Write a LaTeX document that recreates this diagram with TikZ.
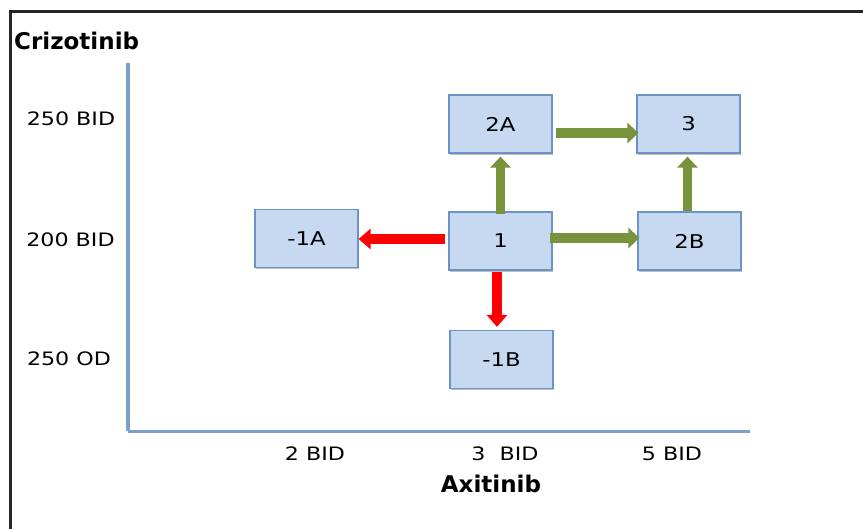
\documentclass[tikz,border=0pt]{standalone}
\usepackage{fontspec}
\setmainfont{DejaVu Sans}[FakeStretch=1.2]
\newfontfamily\drugfont{DejaVu Sans}
\usetikzlibrary{arrows.meta,shadows}

\definecolor{boxfill}{HTML}{C6D9F1}
\definecolor{boxline}{HTML}{6A93C6}
\definecolor{axisblue}{HTML}{7BA0CD}
\definecolor{upgreen}{HTML}{77933C}
\definecolor{downred}{HTML}{FF0000}

\tikzstyle{level} = [draw=boxline, fill=boxfill, line width=1.2pt, minimum width=103pt, minimum height=58pt, inner sep=0pt, font=\fontsize{19}{19}\selectfont, drop shadow={opacity=0.5, shadow xshift=0.8pt, shadow yshift=-1.8pt}]
\tikzstyle{dose} = [inner sep=0pt, font=\fontsize{18.5}{18.5}\selectfont]
\tikzstyle{drug} = [inner sep=0pt, font=\drugfont\bfseries\fontsize{23}{23}\selectfont]
\tikzstyle{up} = [draw=upgreen, line width=9.5pt, -{Triangle[width=20pt,length=11pt]}]
\tikzstyle{down} = [draw=downred, line width=10pt, -{Triangle[width=20pt,length=12pt]}]

\begin{document}
\begin{tikzpicture}[x=1pt, y=-1pt]

\useasboundingbox (0,0) rectangle (863,529);

% frame
\draw[line width=3pt, black!85] (10.5,529) -- (10.5,11.5) -- (863,11.5);

% axes
\coordinate (origin) at (128,431.5);
\coordinate (ytop) at (128,63);
\coordinate (xend) at (750,431.5);
\draw[axisblue, line width=3.5pt] (ytop) -- (origin);
\draw[axisblue, line width=3pt] (origin) -- (xend);

\node[drug, anchor=base west] (crizo) at (14,50) {Crizotinib};
\node[drug] (axi) at (491,484) {Axitinib};

% dose labels
\node[dose] (y250b) at (71,118.5) {250 BID};
\node[dose] (y200b) at (70.5,240) {200 BID};
\node[dose] (y250o) at (69,358.5) {250 OD};
\node[dose] (x2b) at (315,454) {2 BID};
\node[dose] (x3b) at (505,454) {3\ \ BID};
\node[dose] (x5b) at (672,454) {5 BID};

% levels
\node[level] (l2a) at (500.5,124) {2A};
\node[level] (l3) at (688.5,124) {3};
\node[level] (l1) at (500.5,241) {1};
\node[level] (l2b) at (689.5,241) {2B};
\node[level] (lm1a) at (306.5,238.5) {-1A};
\node[level] (lm1b) at (501.5,359.5) {-1B};

% escalation
\draw[up] ([xshift=3pt,yshift=-9pt]l2a.east) -- ([xshift=2pt,yshift=-9pt]l3.west);
\draw[up] ([xshift=-3pt,yshift=3pt]l1.east) -- ([xshift=2pt,yshift=3pt]l2b.west);
\draw[up] ([yshift=-3pt]l1.north) -- ([yshift=-3pt]l2a.south);
\draw[up] ([xshift=-2pt]l2b.north) -- ([xshift=-1pt,yshift=-3pt]l3.south);

% de-escalation
\draw[down] ([xshift=-3pt,yshift=2pt]l1.west) -- ([yshift=-0.5pt]lm1a.east);
\draw[down] ([xshift=-3.5pt,yshift=-1pt]l1.south) -- ([xshift=-4.5pt,yshift=3pt]lm1b.north);

\end{tikzpicture}
\end{document}
